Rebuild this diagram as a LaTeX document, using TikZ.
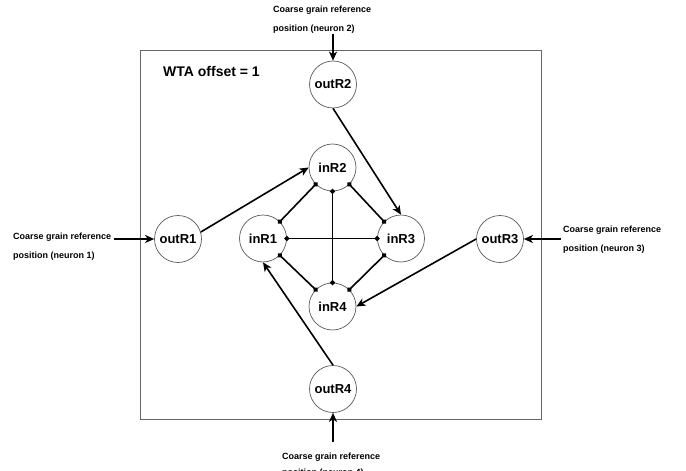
\documentclass[tikz,border=0pt]{standalone}
\usepackage{fontspec}
\setmainfont{Liberation Sans}
\usetikzlibrary{arrows.meta}
\tikzset{
  neuron/.style={circle,draw=black!65,line width=0.7pt,minimum size=47pt,inner sep=0pt,font=\fontsize{13}{15}\selectfont\bfseries},
  reftext/.style={anchor=north west,align=left,inner sep=0pt,font=\fontsize{9}{19}\selectfont\bfseries},
  flow/.style={line width=1.6pt,-{Stealth[length=9pt,width=8pt,inset=2.5pt]}},
  syn/.style={line width=1.6pt,{Circle[length=5pt]}-{Circle[length=5pt]},shorten <=-2.5pt,shorten >=-2.5pt}
}
\begin{document}
\begin{tikzpicture}[x=1pt,y=-1pt]
\useasboundingbox (0,0) rectangle (686,471);
% frame
\node[draw=black!60,line width=0.7pt,minimum width=401pt,minimum height=369pt,inner sep=0pt] (frame) at (340.5,234.5) {};
\node[anchor=west,inner sep=0pt,font=\fontsize{14}{16}\selectfont\bfseries] (wta) at (163,71.7) {WTA offset = 1};

% outer neurons
\node[neuron] (outR1) at (178,239) {outR1};
\node[neuron] (outR2) at (333,84.5) {outR2};
\node[neuron] (outR3) at (500,239) {outR3};
\node[neuron] (outR4) at (333,389) {outR4};

% inner neurons
\node[neuron] (inR1) at (263,238.5) {inR1};
\node[neuron] (inR2) at (332.5,167.5) {inR2};
\node[neuron] (inR3) at (401,238.5) {inR3};
\node[neuron] (inR4) at (332.5,306.5) {inR4};

% reference inputs
\node[reftext] (ref1) at (13,232.7) {Coarse grain reference\\position (neuron 1)};
\node[reftext] (ref2) at (273,5.7) {Coarse grain reference\\position (neuron 2)};
\node[reftext] (ref3) at (563,225.7) {Coarse grain reference\\position (neuron 3)};
\node[reftext,font=\fontsize{9}{16}\selectfont\bfseries] (ref4) at (282,452.4) {Coarse grain reference\\position (neuron 4)};

\draw[flow,shorten <=3pt] (ref1.east |- outR1.west) -- (outR1.west);
\draw[flow,shorten <=1pt] (outR2.north |- ref2.south) -- (outR2.north);
\draw[flow,shorten <=2pt] (ref3.west |- outR3.east) -- (outR3.east);
\draw[flow,shorten <=10pt] (outR4.south |- ref4.north) -- (outR4.south);

% outer to inner
\draw[flow] (outR1.17) -- (inR2.west);
\draw[flow] (outR2.south) -- (inR3.north);
\draw[flow] (outR3.west) -- (inR4.east);
\draw[flow] (outR4.north) -- (inR1.south);

% inner links
\draw[syn] (inR1.45) -- (inR2.225);
\draw[syn] (inR2.315) -- (inR3.135);
\draw[syn] (inR3.225) -- (inR4.45);
\draw[syn] (inR4.135) -- (inR1.315);
\draw[syn] (inR1.east) -- (inR3.west);
\draw[syn] (inR2.south) -- (inR4.north);
\end{tikzpicture}
\end{document}
